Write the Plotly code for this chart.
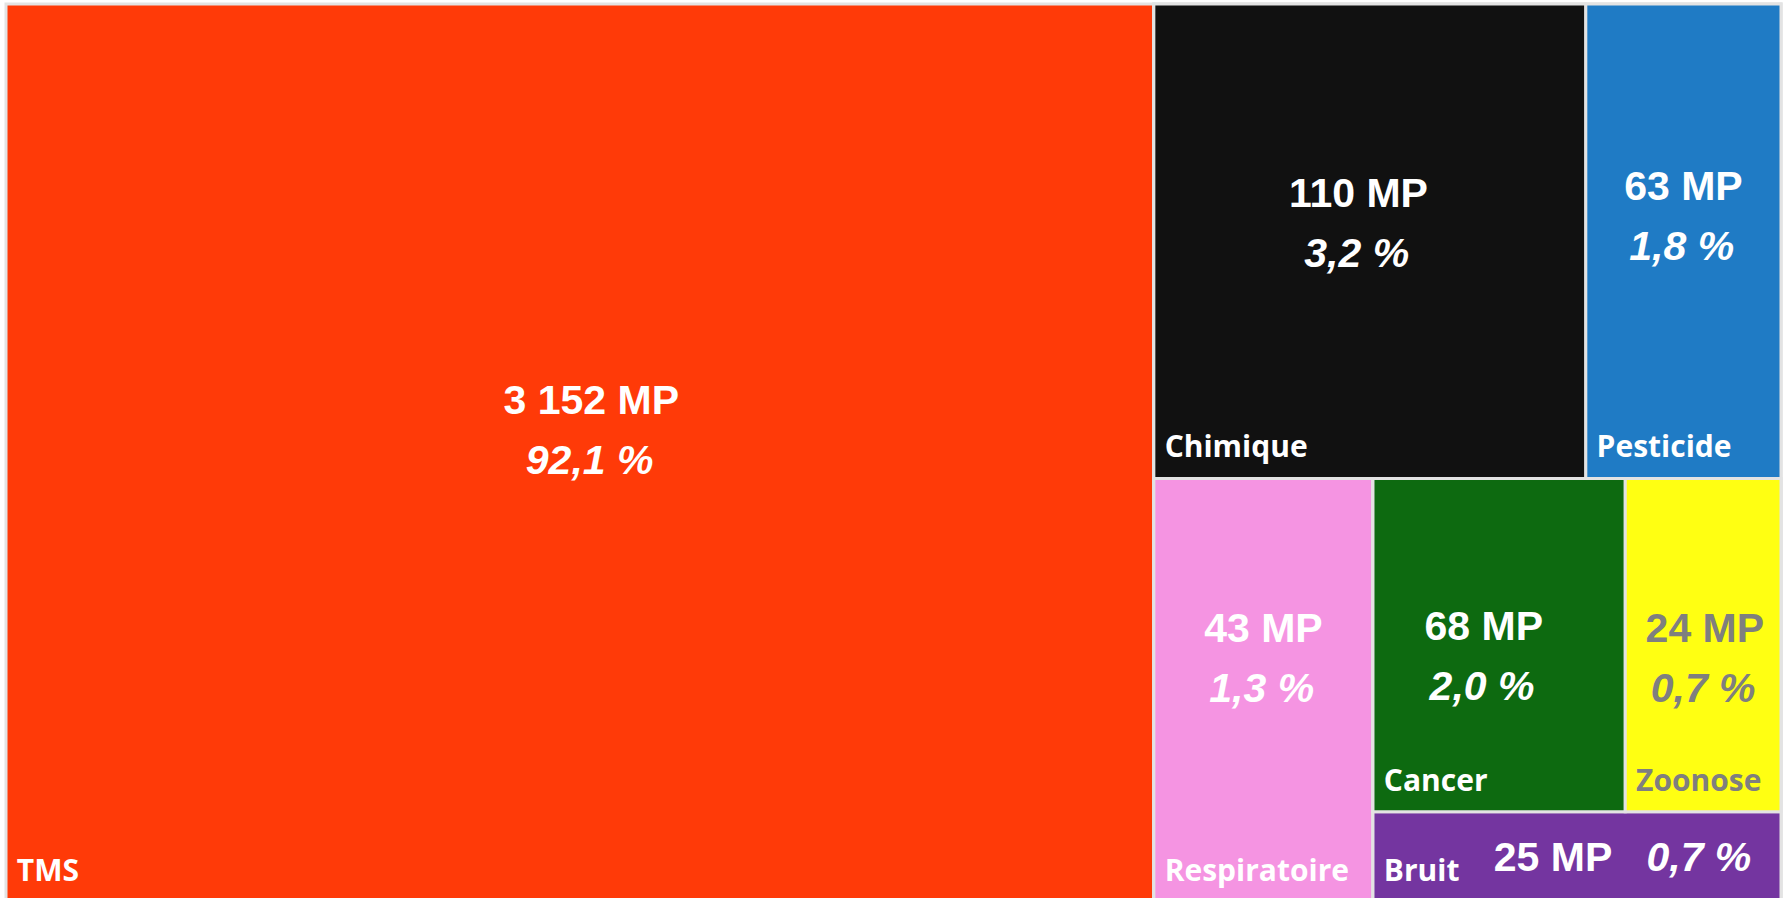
import plotly.graph_objects as go

# ---- data ----
categories = ["TMS", "Chimique", "Pesticide", "Respiratoire", "Cancer", "Zoonose", "Bruit"]
cases = [3152, 110, 63, 43, 68, 24, 25]
shares = [92.1, 3.2, 1.8, 1.3, 2.0, 0.7, 0.7]

# ---- styling ----
colors = ["#FF3A08", "#111111", "#1F7BC5", "#F594E2", "#0D6A10", "#FFFF12", "#7435A0"]
text_colors = ["white", "white", "white", "white", "white", "#7F7F7F", "white"]
# vertical nudge of the value text inside each tile (px, positive = up)
text_nudge = {"TMS": 23, "Chimique": 18, "Pesticide": 25, "Respiratoire": 32,
              "Cancer": -11, "Zoonose": -13, "Bruit": 0}
# horizontal nudge in space widths (positive = right)
text_hnudge = {"TMS": 2, "Chimique": -2, "Pesticide": 0, "Respiratoire": 0,
               "Cancer": -3, "Zoonose": 0, "Bruit": 0}

# display grouping of the (non-proportional) tile layout and its tile weights
groups = {"TMS": "", "R": "", "RT": "R", "RB": "R",
          "Chimique": "RT", "Pesticide": "RT",
          "Respiratoire": "RB", "BR": "RB",
          "CZ": "BR", "Bruit": "BR",
          "Cancer": "CZ", "Zoonose": "CZ"}
tile_weight = {"TMS": 1028.4, "Chimique": 204.5, "Pesticide": 92.4, "Respiratoire": 92.6,
               "Bruit": 36.7, "Cancer": 83.9, "Zoonose": 51.8}

NB = "\u00a0"
HS = "\u200a"


def fmt_n(n):
    return f"{n:,}".replace(",", " ")


def fmt_p(p):
    return f"{p:.1f}".replace(".", ",") + " %"


def shifted(s, px):
    return f"<span style='baseline-shift:{px}px'>{s}</span>"


def hpad(s, n):
    if n > 0:
        return NB * n + s
    if n < 0:
        return s + NB * (-n)
    return s


ids = list(groups.keys())
parents = [groups[i] for i in ids]
vals, marker_cols, value_txt, label_txt, tcols = [], [], [], [], []
for i in ids:
    if i in categories:
        k = categories.index(i)
        vals.append(tile_weight[i])
        marker_cols.append(colors[k])
        tcols.append(text_colors[k])
        label_txt.append(NB + i + shifted(HS, -9))
        mp = f"<b>{fmt_n(cases[k])} MP</b>"
        pc = f"<b><i>{fmt_p(shares[k])}</i></b>"
        if i == "Bruit":
            value_txt.append(NB * 8 + mp + NB * 3 + pc)
        else:
            u = text_nudge[i]
            h = text_hnudge[i]
            line1 = hpad(mp, h)
            line2 = shifted(hpad(pc, h), -7)
            if u > 0:
                line2 += shifted(HS, -(2 * u + 7))
            elif u < 0:
                line1 = shifted(HS, 2 * (-u)) + line1
            value_txt.append(line1 + "<br>" + line2)
    else:
        vals.append(0)
        marker_cols.append("#ffffff")
        tcols.append("white")
        label_txt.append("")
        value_txt.append("")

common = dict(ids=ids, labels=ids, parents=parents, values=vals, sort=False,
              branchvalues="remainder",
              tiling=dict(packing="slice-dice", pad=0),
              pathbar=dict(visible=False),
              domain=dict(x=[0, 1], y=[0, 1]))

fig = go.Figure()
fig.add_trace(go.Treemap(
    **common,
    marker=dict(colors=marker_cols, line=dict(color="#E3E3E3", width=3),
                pad=dict(t=0, l=0, r=0, b=0)),
    text=value_txt, texttemplate="%{text}", textposition="middle center",
    textfont=dict(family="Arial, Liberation Sans, sans-serif", size=41, color=tcols),
    hoverinfo="skip",
))
fig.add_trace(go.Treemap(
    **common,
    marker=dict(colors=["rgba(0,0,0,0)"] * len(ids), line=dict(width=0),
                pad=dict(t=0, l=0, r=0, b=0)),
    text=label_txt, texttemplate="%{text}", textposition="bottom left",
    textfont=dict(family="Open Sans, sans-serif", size=30, color=tcols, weight="bold"),
    hoverinfo="skip",
))

fig.update_layout(width=1783, height=902,
                  margin=dict(l=6, r=2, t=4, b=0),
                  paper_bgcolor="white", showlegend=False)

fig.write_html("out.html",
               config={"displayModeBar": False},
               post_script="document.body.style.margin='0px';"
                           "document.body.style.overflow='hidden';"
                           "document.documentElement.style.overflow='hidden';")
